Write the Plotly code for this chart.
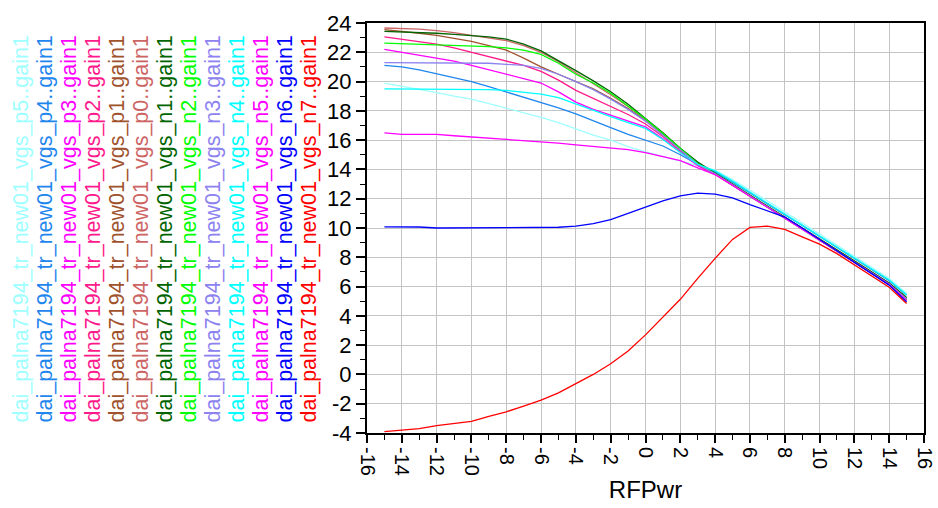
import plotly.graph_objects as go

# RF input power sweep (dBm)
rf_pwr = list(range(-15, 16))

# Gain (dB) for each gate-bias case
gain_p5 = [19.9, 19.7, 19.45, 19.25, 19.0, 18.8, 18.5, 18.2, 17.9, 17.55, 17.2, 16.75, 16.35, 16.0, 15.55,
           15.2, 14.9, 14.6, 14.3, 13.95, 13.3, 12.6, 11.85, 11.1, 10.35, 9.6, 8.85, 8.1, 7.35, 6.55, 5.55]
gain_p4 = [21.1, 21.0, 20.8, 20.55, 20.3, 20.0, 19.65, 19.3, 18.95, 18.6, 18.2, 17.8, 17.3, 16.85, 16.4,
           16.0, 15.6, 15.0, 14.35, 13.85, 13.15, 12.4, 11.65, 10.93, 10.18, 9.43, 8.68, 7.93, 7.18, 6.4, 5.4]
gain_p3 = [22.2, 22.0, 21.85, 21.65, 21.4, 21.1, 20.8, 20.45, 20.2, 19.9, 19.3, 18.6, 18.1, 17.7, 17.3,
           16.9, 16.1, 15.15, 14.25, 13.65, 12.92, 12.17, 11.42, 10.7, 9.95, 9.2, 8.45, 7.7, 6.95, 6.15, 5.1]
gain_p2 = [23.05, 22.9, 22.75, 22.55, 22.3, 22.0, 21.75, 21.45, 21.1, 20.7, 20.1, 19.4, 18.85, 18.3, 17.75,
           17.1, 16.25, 15.25, 14.3, 13.65, 12.92, 12.17, 11.42, 10.7, 9.95, 9.2, 8.45, 7.7, 6.95, 6.15, 5.1]
gain_p1 = [23.55, 23.45, 23.3, 23.15, 22.95, 22.75, 22.45, 22.15, 21.6, 21.0, 20.5, 20.0, 19.5, 18.85, 18.15,
           17.35, 16.4, 15.35, 14.4, 13.7, 12.95, 12.2, 11.45, 10.72, 9.97, 9.22, 8.47, 7.72, 6.97, 6.17, 5.15]
gain_p0 = [23.66, 23.64, 23.58, 23.48, 23.35, 23.15, 23.0, 22.8, 22.45, 22.0, 21.35, 20.6, 19.9, 19.1, 18.3,
           17.4, 16.45, 15.4, 14.45, 13.72, 12.98, 12.23, 11.48, 10.75, 10.0, 9.25, 8.5, 7.75, 7.0, 6.2, 5.2]
gain_n1 = [23.43, 23.4, 23.35, 23.3, 23.22, 23.15, 23.05, 22.9, 22.55, 22.1, 21.45, 20.75, 20.05, 19.3, 18.45,
           17.5, 16.5, 15.45, 14.5, 13.75, 13.0, 12.25, 11.5, 10.78, 10.03, 9.28, 8.53, 7.78, 7.03, 6.25, 5.25]
gain_n2 = [22.62, 22.58, 22.55, 22.52, 22.47, 22.43, 22.38, 22.3, 22.15, 21.85, 21.25, 20.5, 19.9, 19.2, 18.35,
           17.45, 16.45, 15.4, 14.4, 13.7, 12.95, 12.2, 11.45, 10.7, 9.95, 9.2, 8.45, 7.7, 6.95, 6.15, 5.1]
gain_n3 = [21.3, 21.3, 21.3, 21.3, 21.3, 21.3, 21.25, 21.18, 21.1, 20.9, 20.5, 20.0, 19.45, 18.8, 18.1,
           17.3, 16.3, 15.3, 14.35, 13.7, 12.95, 12.2, 11.45, 10.72, 9.97, 9.22, 8.47, 7.72, 6.97, 6.17, 5.15]
gain_n4 = [19.5, 19.5, 19.5, 19.5, 19.5, 19.5, 19.45, 19.4, 19.3, 19.15, 18.9, 18.45, 18.0, 17.6, 17.2,
           16.8, 16.05, 15.15, 14.35, 13.9, 13.2, 12.45, 11.7, 10.98, 10.23, 9.48, 8.73, 7.98, 7.23, 6.45, 5.45]
gain_n5 = [16.5, 16.4, 16.4, 16.4, 16.3, 16.22, 16.15, 16.08, 16.0, 15.9, 15.8, 15.68, 15.58, 15.48, 15.35,
           15.15, 14.9, 14.6, 14.1, 13.65, 12.93, 12.18, 11.43, 10.7, 9.95, 9.2, 8.45, 7.7, 6.95, 6.15, 5.05]
gain_n6 = [10.08, 10.08, 10.07, 10.0, 10.0, 10.0, 10.0, 10.0, 10.0, 10.0, 10.05, 10.13, 10.3, 10.58, 11.0,
           11.45, 11.85, 12.2, 12.38, 12.32, 12.06, 11.6, 11.2, 10.75, 10.0, 9.22, 8.45, 7.68, 6.92, 6.1, 4.95]
gain_n7 = [-3.9, -3.82, -3.7, -3.5, -3.36, -3.2, -2.86, -2.55, -2.16, -1.76, -1.26, -0.62, 0.0, 0.73, 1.6,
           2.7, 3.95, 5.13, 6.56, 7.93, 9.22, 10.04, 10.13, 9.9, 9.4, 8.9, 8.25, 7.5, 6.75, 5.95, 4.85]

series_names = [
    "dai_palna7194_tr_new01_vgs_p5..gain1",
    "dai_palna7194_tr_new01_vgs_p4..gain1",
    "dai_palna7194_tr_new01_vgs_p3..gain1",
    "dai_palna7194_tr_new01_vgs_p2..gain1",
    "dai_palna7194_tr_new01_vgs_p1..gain1",
    "dai_palna7194_tr_new01_vgs_p0..gain1",
    "dai_palna7194_tr_new01_vgs_n1..gain1",
    "dai_palna7194_tr_new01_vgs_n2..gain1",
    "dai_palna7194_tr_new01_vgs_n3..gain1",
    "dai_palna7194_tr_new01_vgs_n4..gain1",
    "dai_palna7194_tr_new01_vgs_n5..gain1",
    "dai_palna7194_tr_new01_vgs_n6..gain1",
    "dai_palna7194_tr_new01_vgs_n7..gain1",
]
series_values = [gain_p5, gain_p4, gain_p3, gain_p2, gain_p1, gain_p0,
                 gain_n1, gain_n2, gain_n3, gain_n4, gain_n5, gain_n6, gain_n7]
series_colors = ["#a0ffff", "#1f86ee", "#ff00ff", "#ff1a8c", "#a0522d", "#cd6464",
                 "#006400", "#00ff00", "#8c82f0", "#00ffff", "#ff00ff", "#0000ff", "#ff0000"]

# Axis ticks (labels use a plain hyphen for negatives)
x_ticks = list(range(-16, 17, 2))
y_ticks = list(range(-4, 25, 2))
x_ticktext = [str(v) for v in x_ticks]
y_ticktext = [str(v) for v in y_ticks]

FONT = "Liberation Sans, Arial, sans-serif"

fig = go.Figure()
for name, vals, col in zip(series_names, series_values, series_colors):
    fig.add_trace(go.Scatter(x=rf_pwr, y=vals, mode="lines", name=name,
                             line=dict(color=col, width=1.3), showlegend=False))

# Vertical legend: one rotated label per trace, to the left of the plot
W, H = 938, 508
L, R, T, B = 367, 14, 23, 75
pw, ph = W - L - R, H - T - B
legend_x = [20, 44, 68, 92, 116, 140, 164, 188, 212, 236, 260, 284, 308]
for px, name, col in zip(legend_x, series_names, series_colors):
    fig.add_annotation(
        text=name, textangle=-90, showarrow=False,
        xref="paper", yref="paper",
        x=(px - L) / pw, y=(H - B - 425) / ph,
        xanchor="center", yanchor="bottom",
        font=dict(family=FONT, size=21.5, color=col),
    )

fig.update_layout(
    template="none",
    width=W, height=H,
    margin=dict(l=L, r=R, t=T, b=B, autoexpand=False),
    paper_bgcolor="white", plot_bgcolor="white",
    font=dict(family=FONT, color="black"),
    showlegend=False,
)
fig.update_xaxes(
    range=[-16, 16], tickmode="array", tickvals=x_ticks, ticktext=x_ticktext,
    automargin=False,
    showgrid=True, gridcolor="#c4c4c4", gridwidth=1,
    showline=True, linecolor="black", linewidth=2, mirror=True,
    ticks="outside", ticklen=8, tickwidth=1.5, tickcolor="black",
    minor=dict(dtick=1, tick0=0, ticks="outside", ticklen=5, tickwidth=1.2, tickcolor="black", showgrid=False),
    tickangle=90, tickfont=dict(family=FONT, size=20, color="black"),
    zeroline=False,
    title=dict(text="RFPwr", font=dict(family=FONT, size=24, color="black"), standoff=6),
)
fig.update_yaxes(
    range=[-4, 24], tickmode="array", tickvals=y_ticks, ticktext=y_ticktext,
    automargin=False,
    showgrid=True, gridcolor="#c4c4c4", gridwidth=1,
    showline=True, linecolor="black", linewidth=2, mirror=True,
    ticks="outside", ticklen=9, tickwidth=1.5, tickcolor="black",
    minor=dict(dtick=1, tick0=0, ticks="outside", ticklen=5, tickwidth=1.2, tickcolor="black", showgrid=False),
    tickfont=dict(family=FONT, size=22, color="black"),
    zeroline=False,
)

fig.write_html("out.html")
